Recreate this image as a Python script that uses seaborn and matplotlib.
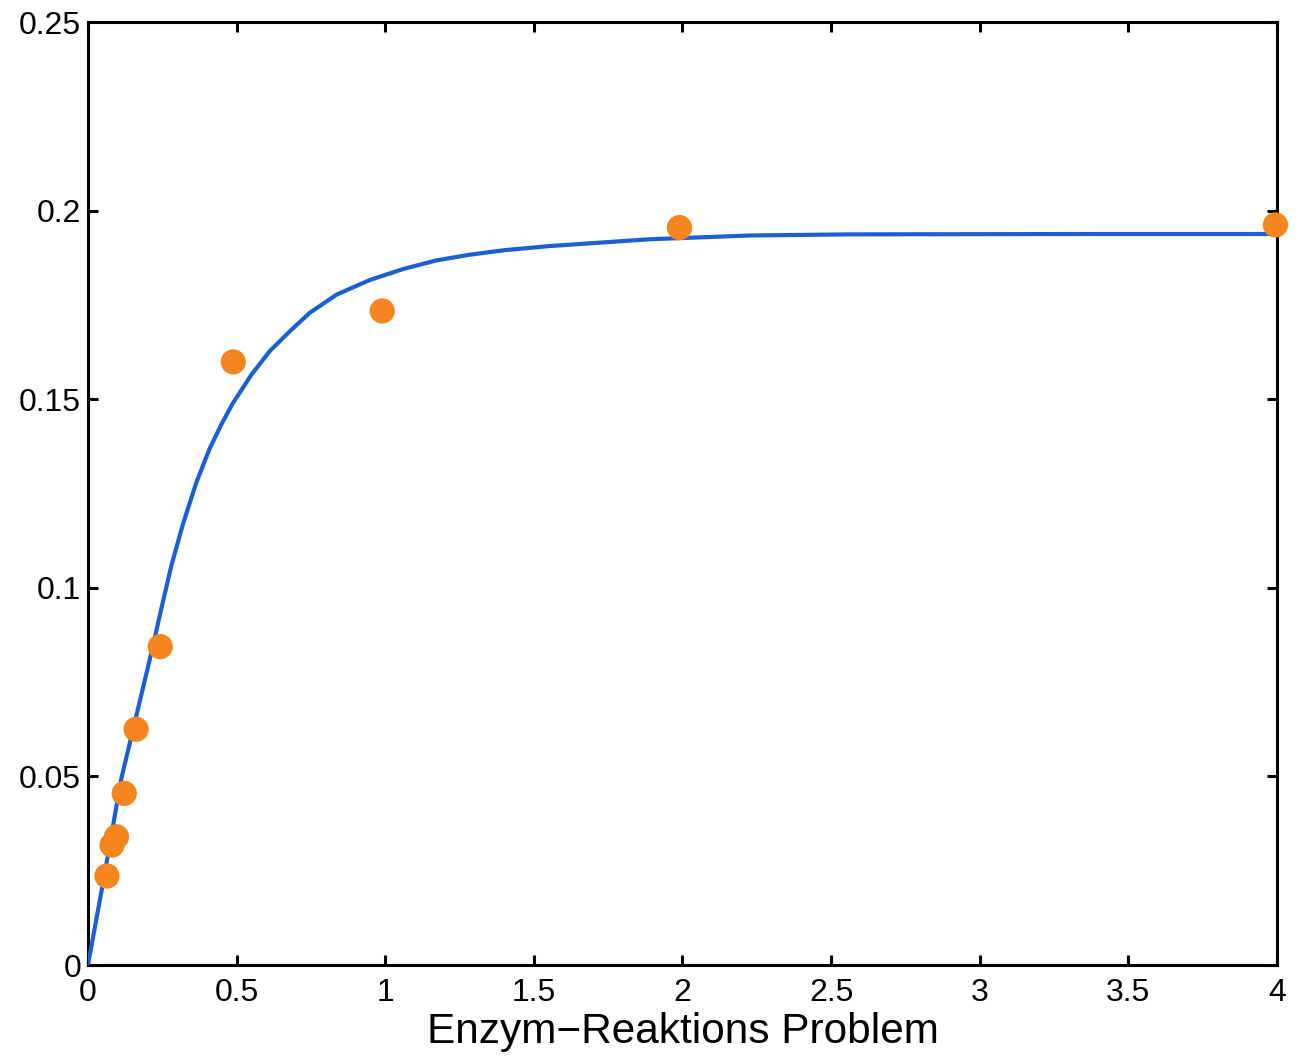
import numpy as np
import pandas as pd
import matplotlib
matplotlib.use('Agg')
import matplotlib.pyplot as plt
import seaborn as sns

subst = [0.064, 0.081, 0.096, 0.122, 0.162, 0.243, 0.489, 0.990, 1.990, 3.995]
rate = [0.0236, 0.0318, 0.0340, 0.0455, 0.0625, 0.0844, 0.1599, 0.1734, 0.1955, 0.1962]

# fitted curve
curve_x = [0.0, 0.057, 0.111, 0.214, 0.248, 0.281, 0.320, 0.365, 0.410, 0.450,
           0.488, 0.550, 0.612, 0.679, 0.746, 0.836, 0.948, 1.060, 1.172, 1.284,
           1.400, 1.553, 1.889, 2.225, 2.561, 3.402, 4.0]
curve_y = [0.0, 0.0245, 0.0490, 0.0830, 0.0949, 0.1060, 0.1170, 0.1280, 0.1370, 0.1435,
           0.1490, 0.1565, 0.1628, 0.1680, 0.1729, 0.1777, 0.1816, 0.1845, 0.1868, 0.1883,
           0.1895, 0.1906, 0.1924, 0.1934, 0.1937, 0.1938, 0.1938]

xticks = [0, 0.5, 1, 1.5, 2, 2.5, 3, 3.5, 4]
xticklabels = ['0', '0.5', '1', '1.5', '2', '2.5', '3', '3.5', '4']
yticks = [0, 0.05, 0.1, 0.15, 0.2, 0.25]
yticklabels = ['0', '0.05', '0.1', '0.15', '0.2', '0.25']

pts = pd.DataFrame({'S': subst, 'v': rate})
fit = pd.DataFrame({'S': curve_x, 'v': curve_y})

sns.set_style('white')
plt.rcParams['font.family'] = ['Liberation Sans', 'DejaVu Sans']
plt.rcParams['text.color'] = 'black'
plt.rcParams['xtick.color'] = 'black'
plt.rcParams['ytick.color'] = 'black'
plt.rcParams['axes.labelcolor'] = 'black'

fig = plt.figure(figsize=(13.05, 10.58), dpi=100)
ax = fig.add_axes([0.0674, 0.0879, 0.9111, 0.8913])

sns.lineplot(data=fit, x='S', y='v', color='#1b5fd2', linewidth=3, ax=ax, zorder=3,
             solid_joinstyle='round')
sns.scatterplot(data=pts, x='S', y='v', color='#f5861f', s=330, edgecolor='none',
                ax=ax, zorder=5, clip_on=False)

ax.set_xlim(0, 4)
ax.set_ylim(0, 0.25)
ax.set_xticks(xticks)
ax.set_xticklabels(xticklabels)
ax.set_yticks(yticks)
ax.set_yticklabels(yticklabels)
ax.tick_params(direction='in', length=7.5, width=2.2, labelsize=23,
               top=True, right=True, bottom=True, left=True)
ax.tick_params(axis='x', pad=9)
ax.tick_params(axis='y', pad=5)
for sp in ax.spines.values():
    sp.set_linewidth(2.2)
    sp.set_color('black')
    sp.set_visible(True)

ax.set_xlabel('Enzym\u2212Reaktions Problem', fontsize=30.5, labelpad=3)
ax.set_ylabel('')

fig.savefig('out.png', dpi=100)
